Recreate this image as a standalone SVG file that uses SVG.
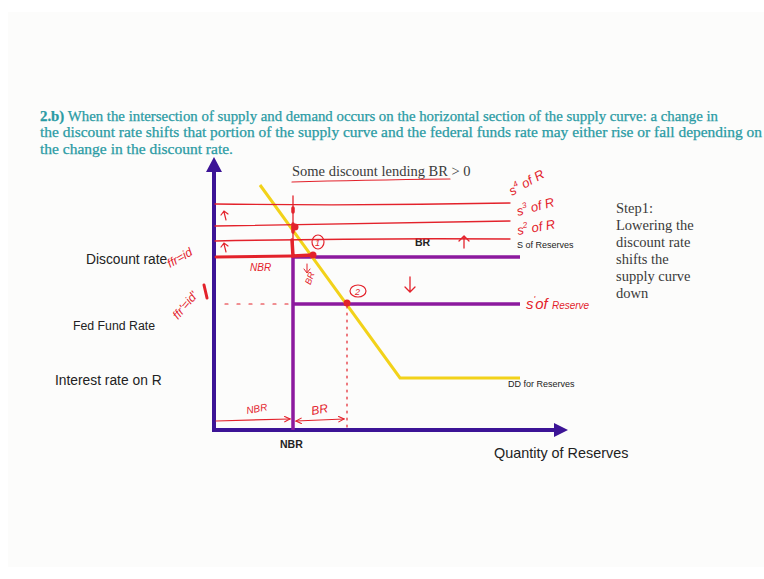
<svg xmlns="http://www.w3.org/2000/svg" width="764" height="579" viewBox="0 0 764 579">
<defs>
<style>
.title{font-family:"Liberation Serif","DejaVu Serif",serif;font-size:14px;fill:#2a9ba4;stroke:#2a9ba4;stroke-width:0.25}
.serif{font-family:"Liberation Serif","DejaVu Serif",serif;font-size:14.5px;fill:#3a3a3a}
.sans{font-family:"Liberation Sans",Arial,sans-serif;fill:#222}
.hand{font-family:"Liberation Sans",Arial,sans-serif;font-style:italic;fill:#e3222b}
.red{stroke:#e3222b;fill:none;stroke-linecap:round}
.axis{stroke:#3c1496;stroke-width:4;fill:none}
.purple{stroke:#8c1a9e;stroke-width:3.5;fill:none}
.yellow{stroke:#f2d21a;stroke-width:3;fill:none}
</style>
<marker id="rh" viewBox="0 0 10 10" refX="9" refY="5" markerWidth="6" markerHeight="6" orient="auto-start-reverse"><path d="M1,1 L9,5 L1,9" fill="none" stroke="#e3222b" stroke-width="1.5"/></marker>
</defs>
<rect width="764" height="579" fill="#ffffff"/>
<rect x="8" y="12" width="756" height="555" fill="#fcfcfb"/>

<g id="title">
<text class="title" x="40" y="121" textLength="678" lengthAdjust="spacingAndGlyphs"><tspan font-weight="bold">2.b)</tspan> When the intersection of supply and demand occurs on the horizontal section of the supply curve: a change in</text>
<text class="title" x="40" y="137" textLength="722" lengthAdjust="spacingAndGlyphs">the discount rate shifts that portion of the supply curve and the federal funds rate may either rise or fall depending on</text>
<text class="title" x="40" y="154" textLength="193" lengthAdjust="spacingAndGlyphs">the change in the discount rate.</text>
</g>

<g id="axes">
<path class="axis" d="M214,430 L214,170"/>
<path d="M206,172 L214,157 L222,172 Z" fill="#3c1496"/>
<path class="axis" d="M212,430 L555,430"/>
<path d="M554,423 L568,430 L554,437 Z" fill="#3c1496"/>
</g>

<g id="supply">
<path class="purple" d="M293,430 L293,257 L520,257"/>
<path class="purple" d="M293,304 L520,304"/>
</g>

<g id="demand">
<path class="yellow" d="M260,185 L400,378 L520,378"/>
</g>

<g id="labels">
<text class="sans" x="86" y="264" font-size="13.8">Discount rate</text>
<text class="sans" x="73" y="330" font-size="12.3" fill="#333">Fed Fund Rate</text>
<text class="sans" x="55" y="385" font-size="13.8">Interest rate on R</text>
<text class="sans" x="415" y="246" font-size="10.5" font-weight="bold">BR</text>
<text class="sans" x="517" y="248" font-size="9" fill="#444">S of Reserves</text>
<text class="sans" x="508" y="387" font-size="9" fill="#444">DD for Reserves</text>
<text class="sans" x="280" y="448" font-size="10.5" font-weight="bold">NBR</text>
<text class="sans" x="494" y="458" font-size="14.4">Quantity of Reserves</text>
<text class="serif" x="292" y="176" font-size="14">Some discount lending BR &gt; 0</text>
<g class="serif">
<text x="616" y="213">Step1:</text>
<text x="616" y="230">Lowering the</text>
<text x="616" y="247">discount rate</text>
<text x="616" y="264">shifts the</text>
<text x="616" y="281">supply curve</text>
<text x="616" y="298">down</text>
</g>
</g>

<g id="annotations">
<path class="red" stroke-width="1.2" d="M292,182 Q360,180 450,179"/>
<path class="red" stroke-width="1.3" d="M215,204 Q360,206 510,203"/>
<path class="red" stroke-width="1.3" d="M215,226 Q360,223 510,221"/>
<path class="red" stroke-width="1.3" d="M215,241 Q360,238 510,239"/>
<path class="red" stroke-width="3" d="M216,257 L292,256"/>
<path class="red" stroke-width="1.3" d="M293,196 L293,257"/>
<path class="red" stroke-width="3.5" d="M293,208 L293,212 M293,224 L293,232 M292,240 L293,256 L313,255"/>
<circle cx="295" cy="227" r="3.5" fill="#e3222b"/>
<circle cx="313" cy="255" r="3.5" fill="#e3222b"/>
<circle cx="347" cy="303" r="3.5" fill="#e3222b"/>
<ellipse class="red" stroke-width="1.2" cx="318" cy="242" rx="6" ry="7"/>
<text class="hand" x="315" y="246" font-size="9">1</text>
<ellipse class="red" stroke-width="1.2" cx="358" cy="291" rx="8" ry="6"/>
<text class="hand" x="355" y="295" font-size="9">2</text>
<path class="red" stroke-width="1.2" stroke-dasharray="3,9" d="M225,304 L290,304"/>
<path class="red" stroke-width="1.2" stroke-dasharray="2,5" d="M347,306 L347,428"/>
<path class="red" stroke-width="1.2" d="M226,220 L224,212 M221,215 L224,211 L228,214"/>
<path class="red" stroke-width="1.2" d="M226,252 L224,244 M221,247 L224,243 L228,246"/>
<text class="hand" x="250" y="271" font-size="10">NBR</text>
<path class="red" stroke-width="1" d="M307,264 L307,272 M304,269 L307,273 L310,269"/>
<text class="hand" x="304" y="284" font-size="9" transform="rotate(-70 308 280)">BR</text>
<path class="red" stroke-width="1.3" d="M464,248 L464,236 M459,241 L464,236 L469,241"/>
<path class="red" stroke-width="1.3" d="M410,277 L410,292 M405,287 L410,292 L415,287"/>
<text class="hand" x="512" y="196" font-size="13" transform="rotate(-30 512 196)">s<tspan font-size="8" dy="-6">4</tspan><tspan dy="6"> of R</tspan></text>
<text class="hand" x="518" y="216" font-size="13" transform="rotate(-15 518 216)">s<tspan font-size="8" dy="-6">3</tspan><tspan dy="6"> of R</tspan></text>
<text class="hand" x="518" y="235" font-size="13" transform="rotate(-10 518 235)">s<tspan font-size="8" dy="-6">2</tspan><tspan dy="6"> of R</tspan></text>
<text class="hand" x="526" y="309" font-size="15">s<tspan font-size="9" dy="-7">'</tspan><tspan dy="7">of </tspan><tspan font-size="10">Reserve</tspan></text>
<text class="hand" x="170" y="268" font-size="12" transform="rotate(-30 170 268)">ffr=id</text>
<text class="hand" x="178" y="320" font-size="12" transform="rotate(-50 178 320)">ffr'=id'</text>
<path class="red" stroke-width="3" d="M204,285 L207,298"/>
<path class="red" stroke-width="1.2" marker-end="url(#rh)" d="M216,421 L290,419"/>
<text class="hand" x="247" y="414" font-size="10" transform="rotate(-10 247 414)">NBR</text>
<path class="red" stroke-width="1.2" marker-start="url(#rh)" marker-end="url(#rh)" d="M296,421 L344,419"/>
<text class="hand" x="312" y="415" font-size="12" transform="rotate(-10 312 415)">BR</text>
</g>
</svg>
